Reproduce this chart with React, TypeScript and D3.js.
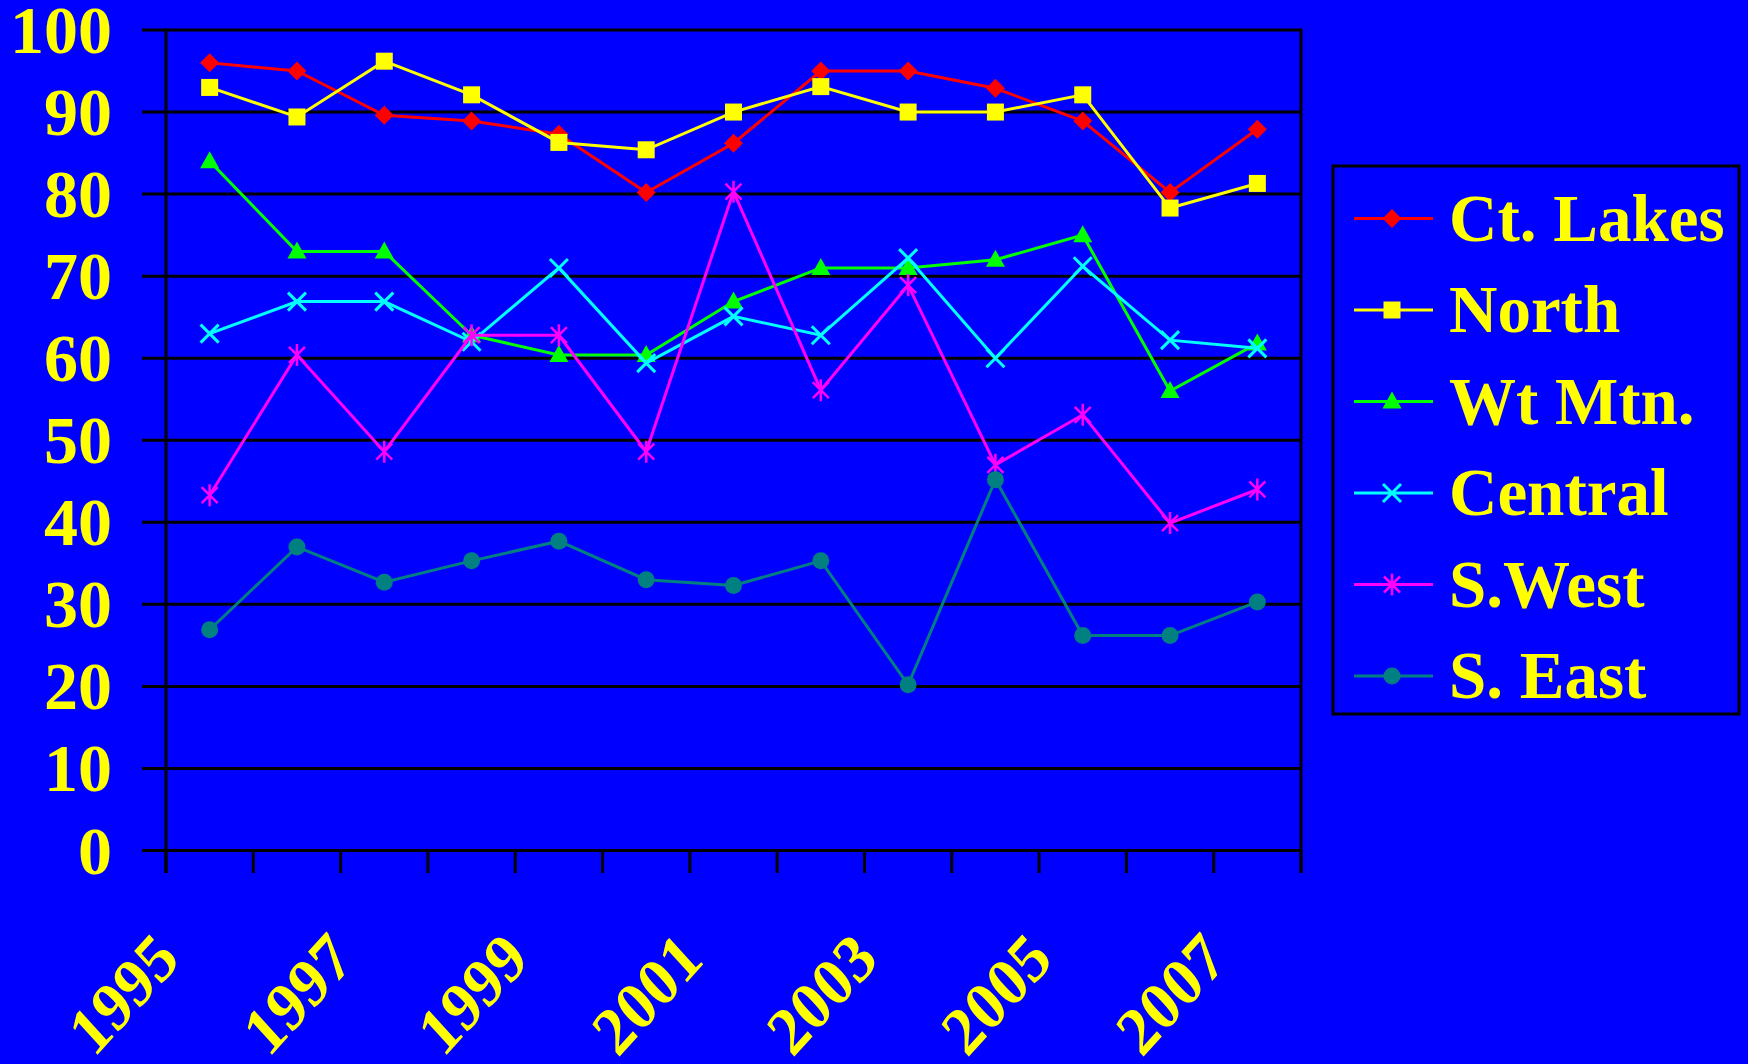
import React from 'react';
import * as d3 from 'd3';

const years = ['1995', '1996', '1997', '1998', '1999', '2000', '2001', '2002', '2003', '2004', '2005', '2006', '2007'];
const yTicks = [0, 10, 20, 30, 40, 50, 60, 70, 80, 90, 100];

const ctLakes = [96, 95, 89.6, 88.9, 87.3, 80.2, 86.2, 95, 95, 92.9, 88.9, 80.2, 87.9];
const north = [93, 89.4, 96.2, 92.1, 86.3, 85.4, 90, 93.1, 90, 90, 92.1, 78.3, 81.3];
const wtMtn = [84, 73, 73, 62.8, 60.4, 60.4, 66.9, 71, 71, 72, 75, 56, 61.8];
const central = [63, 66.9, 66.9, 62, 71, 59.4, 65.1, 62.8, 72.2, 60, 71.2, 62.2, 61.2];
const sWest = [43.3, 60.4, 48.6, 62.8, 62.8, 48.6, 80.3, 56.1, 68.9, 47, 53.1, 39.9, 44];
const sEast = [26.9, 37, 32.7, 35.3, 37.7, 33, 32.3, 35.3, 20.2, 45.2, 26.2, 26.2, 30.3];

const series = [
  { name: 'Ct. Lakes', values: ctLakes, color: '#ff0000', marker: 'diamond' },
  { name: 'North', values: north, color: '#ffff00', marker: 'square' },
  { name: 'Wt Mtn.', values: wtMtn, color: '#00ff00', marker: 'triangle' },
  { name: 'Central', values: central, color: '#00ffff', marker: 'x' },
  { name: 'S.West', values: sWest, color: '#ff00ff', marker: 'star' },
  { name: 'S. East', values: sEast, color: '#008080', marker: 'circle' },
];

const W = 1748;
const H = 1064;
const left = 166, right = 1301, top = 30, bottom = 850.5;
const font = '"Liberation Serif", "Times New Roman", serif';

const Marker = ({ type, x, y, color }) => {
  if (type === 'diamond') {
    return <path d={`M${x},${y - 9.5}L${x + 9.5},${y}L${x},${y + 9.5}L${x - 9.5},${y}Z`} fill={color} />;
  }
  if (type === 'square') {
    return <rect x={x - 8.5} y={y - 8.5} width={17} height={17} fill={color} />;
  }
  if (type === 'triangle') {
    return <path d={`M${x},${y - 10}L${x + 9.5},${y + 7}L${x - 9.5},${y + 7}Z`} fill={color} />;
  }
  if (type === 'circle') {
    return <circle cx={x} cy={y} r={8.5} fill={color} />;
  }
  if (type === 'x') {
    return <path d={`M${x - 9},${y - 9}L${x + 9},${y + 9}M${x + 9},${y - 9}L${x - 9},${y + 9}`} stroke={color} strokeWidth={3} />;
  }
  // star: x plus vertical bar
  return (
    <path
      d={`M${x - 8},${y - 8}L${x + 8},${y + 8}M${x + 8},${y - 8}L${x - 8},${y + 8}M${x},${y - 11}L${x},${y + 11}`}
      stroke={color}
      strokeWidth={2.5}
    />
  );
};

export default function App() {
  const x = d3.scaleBand().domain(years).range([left, right]);
  const y = d3.scaleLinear().domain([0, 100]).range([bottom, top]);
  const line = d3
    .line<number>()
    .x((_, i) => x(years[i])! + x.bandwidth() / 2)
    .y((d) => y(d));

  const tickXs = years.map((yr) => x(yr)!).concat([right]);

  return (
    <svg width={W} height={H} style={{ position: 'absolute', left: 0, top: 0, background: '#0000ff' }}>
      <rect width={W} height={H} fill="#0000ff" />

      {/* gridlines + y ticks */}
      {yTicks.map((t) => (
        <line key={t} x1={142} x2={right} y1={y(t)} y2={y(t)} stroke="#000" strokeWidth={3} />
      ))}
      {/* axes */}
      <line x1={left} x2={left} y1={top - 1.5} y2={873} stroke="#000" strokeWidth={3} />
      <line x1={right} x2={right} y1={top - 1.5} y2={873} stroke="#000" strokeWidth={3} />
      {tickXs.map((tx, i) => (
        <line key={i} x1={tx} x2={tx} y1={bottom} y2={873} stroke="#000" strokeWidth={3} />
      ))}

      {/* y labels */}
      {yTicks.map((t) => (
        <text
          key={t}
          x={112}
          y={y(t) + 23}
          textAnchor="end"
          fontFamily={font}
          fontWeight="bold"
          fontSize={68}
          fill="#ffff00"
        >
          {t}
        </text>
      ))}

      {/* x labels, every other year (slightly stretched vertically like the original) */}
      {years
        .filter((_, i) => i % 2 === 0)
        .map((yr) => {
          const ax = x(yr)! + x.bandwidth() / 2 - 28;
          const ay = 962;
          return (
            <text
              key={yr}
              x={0}
              y={0}
              textAnchor="end"
              transform={`translate(${ax},${ay}) scale(1,1.1) rotate(-45)`}
              fontFamily={font}
              fontWeight="bold"
              fontSize={62}
              fill="#ffff00"
            >
              {yr}
            </text>
          );
        })}

      {/* series */}
      {series.map((s) => (
        <g key={s.name}>
          <path d={line(s.values)!} fill="none" stroke={s.color} strokeWidth={3} />
          {s.values.map((v, i) => (
            <Marker key={i} type={s.marker} x={x(years[i])! + x.bandwidth() / 2} y={y(v)} color={s.color} />
          ))}
        </g>
      ))}

      {/* legend */}
      <rect x={1333} y={166} width={406} height={548} fill="#0000ff" stroke="#000" strokeWidth={3} />
      {series.map((s, i) => {
        const cy = 218.5 + i * 91.5;
        return (
          <g key={s.name}>
            <line x1={1354} x2={1433} y1={cy} y2={cy} stroke={s.color} strokeWidth={3} />
            <Marker type={s.marker} x={1392} y={cy} color={s.color} />
            <text x={1449} y={cy + 22} fontFamily={font} fontWeight="bold" fontSize={67} fill="#ffff00">
              {s.name}
            </text>
          </g>
        );
      })}
    </svg>
  );
}
